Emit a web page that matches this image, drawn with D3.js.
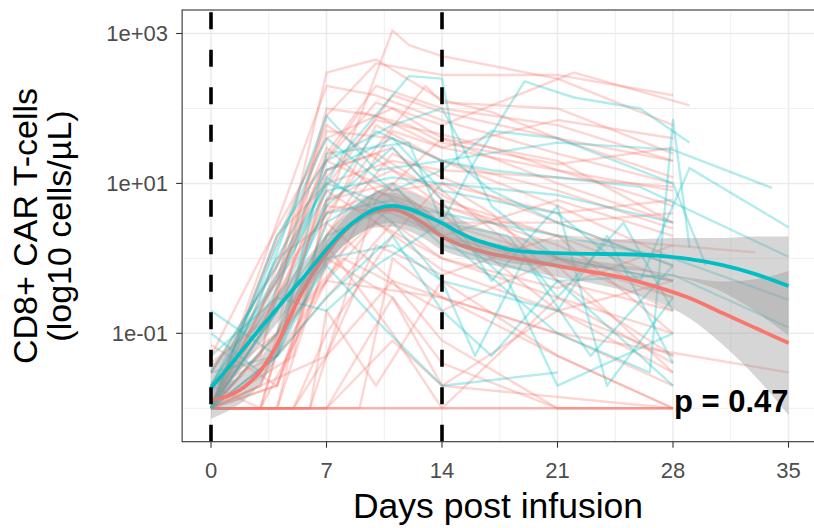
<!DOCTYPE html>
<html>
<head>
<meta charset="utf-8">
<script src="https://cdn.jsdelivr.net/npm/d3@7"></script>
<style>
  body { margin: 0; background: #fff; }
  text { font-family: "Liberation Sans", Arial, sans-serif; }
</style>
</head>
<body>
<div id="chart"></div>
<script>
// ---- data ----
const xTicks = [0, 7, 14, 21, 28, 35]
const xMinor = [3.5, 10.5, 17.5, 24.5, 31.5]
const yTicks = [0.1, 10, 1000]
const yTickLabels = ["1e-01", "1e+01", "1e+03"]
const yMinor = [0.01, 1, 100]
const vlineDays = [0, 14]
const pLabel = "p = 0.47"

// individual patients, [day, cells/uL]
const redPatients = [
  [[0,0.01],[4,0.01],[7,5],[11,1100],[12,700],[14,500],[21,250],[28,60]],
  [[0,0.01],[3,0.05],[7,300],[10,450],[14,130],[17,90],[21,40],[28,20]],
  [[0,0.01],[5,1.5],[7,20],[10,120],[14,60],[22,300],[29,110]],
  [[0,0.01],[4,0.3],[7,80],[10,400],[14,280],[21,280],[28,150]],
  [[0,0.02],[4,0.1],[7,2],[11,50],[14,30],[21,15],[28,8]],
  [[0,0.01],[3,0.01],[7,0.5],[10,8],[14,3],[21,1],[28,0.3]],
  [[0,0.01],[7,0.01],[14,0.01],[21,0.01],[28,0.01]],
  [[0,0.01],[4,0.01],[28,0.01]],
  [[0,0.03],[4,0.5],[7,15],[11,30],[14,6],[21,2],[28,0.5]],
  [[0,0.01],[3,0.02],[7,3],[10,60],[14,20],[21,5],[28,1]],
  [[0,0.01],[5,0.01],[7,0.1],[11,2],[14,10],[17,4],[21,0.5],[28,0.05]],
  [[0,0.05],[3,1],[7,40],[11,100],[14,40],[21,10],[28,3]],
  [[0,0.01],[4,2],[7,10],[11,20],[14,15],[21,12],[28,9]],
  [[0,0.01],[6,0.01],[7,0.2],[10,0.02],[14,0.5],[21,0.05],[28,0.01]],
  [[0,0.02],[4,0.3],[7,8],[10,3],[14,1],[21,0.3],[28,0.1]],
  [[0,0.01],[4,0.01],[7,1],[11,0.3],[14,0.02],[21,0.2],[28,0.03]],
  [[0,0.01],[3,0.1],[7,25],[10,200],[14,100],[21,60],[28,20]],
  [[0,0.01],[4,0.02],[7,0.8],[11,5],[14,2],[21,6],[28,2]],
  [[0,0.01],[4,0.5],[7,4],[11,9],[14,3],[21,3],[28,4]],
  [[0,0.01],[3,0.2],[7,50],[11,40],[14,20],[21,8],[28,2.5]],
  [[0,0.01],[7,0.05],[11,0.5],[14,0.08],[21,0.01],[28,0.01]],
  [[0,0.03],[4,0.8],[7,30],[10,8],[14,4],[17,1],[21,0.2],[28,0.05]],
  [[0,0.01],[4,0.1],[8,1],[10,0.6],[14,0.2],[21,1],[28,0.5]],
  [[0,0.01],[4,0.01],[9,0.01],[11,1],[14,0.3],[21,0.1],[28,0.02]],
  [[0,0.01],[4,3],[7,200],[10,150],[14,70],[21,25],[28,10]],
  [[0,0.01],[5,0.05],[7,6],[11,15],[14,8],[21,0.5],[28,0.2]],
  [[0,0.01],[3,0.01],[7,12],[10,70],[14,45],[17,30],[21,15],[28,5]],
  [[0,0.02],[4,0.05],[7,0.3],[11,3],[14,1],[21,0.4],[28,1.5]],
  [[0,0.01],[4,0.02],[7,2],[11,25],[14,12],[21,3],[28,0.8]],
  [[0,0.01],[3,0.5],[7,60],[11,15],[14,5],[21,1.5],[28,0.3]],
  [[0,0.01],[4,0.01],[7,0.01],[11,0.3],[14,0.04],[21,0.01],[28,0.01]],
  [[0,0.01],[4,0.2],[7,5],[11,4],[14,2],[21,0.8],[28,0.03]],
  [[0,0.01],[5,0.01],[7,0.05],[10,1.5],[14,0.6],[21,2],[28,0.1]],
  [[0,0.02],[3,0.05],[7,100],[10,80],[14,30],[21,70],[28,40]],
  [[0,0.01],[4,0.6],[7,20],[11,8],[14,10],[21,4],[28,6]],
  [[0,0.01],[4,0.05],[7,0.5],[10,3],[14,0.7],[21,0.2],[28,0.5]],
  [[0,0.01],[3,0.02],[7,9],[11,150],[14,90],[21,40],[28,12]],
  [[0,0.01],[4,1],[7,3],[11,0.5],[14,0.3],[21,0.05],[28,0.01]],
  [[0,0.04],[4,0.2],[7,15],[10,25],[14,7],[21,1],[28,0.2]],
  [[0,0.01],[7,0.01],[11,0.08],[14,0.02],[28,0.01]],
  [[0,0.01],[4,0.3],[7,6],[11,10],[14,5],[21,2],[33,1.2]],
  [[0,0.01],[7,0.5],[14,0.3],[21,0.1],[35,0.03]],
  [[0,0.07],[4,0.02],[7,1.5],[11,0.1],[14,0.01],[21,0.3],[28,0.04]],
  [[0,0.01],[4,0.01],[6,0.01],[10,6],[14,40],[21,20],[28,3]],
  [[0,0.01],[4,0.1],[6,10],[9,90],[12,60],[14,35],[21,18],[28,30]],
  [[0,0.02],[3,0.01],[6,2],[10,30],[13,200],[14,120],[21,100],[28,25]]
]

const tealPatients = [
  [[0,0.02],[4,0.6],[8,25],[12,270],[14,250],[15,18],[17,8],[21,3],[28,0.8]],
  [[0,0.01],[4,0.2],[7,2],[11,5],[14,3],[16,20],[19,230],[22,140],[26,100],[29,35]],
  [[0,0.01],[3,0.3],[7,80],[10,15],[14,20],[21,35],[26,30],[28,28],[34,8.7]],
  [[0,0.01],[4,0.05],[7,3],[11,10],[14,2],[21,0.1],[26.6,0.03],[28,70],[29,1.4]],
  [[0,0.02],[4,1],[7,15],[11,40],[14,8],[21,4],[26,0.5],[29,16],[35,2.6]],
  [[0,0.01],[4,0.1],[7,6],[10,50],[14,20],[17,15],[21,12],[26,9],[35,1.05]],
  [[0,0.03],[4,0.8],[7,10],[11,5],[14,4],[21,2],[28,1],[35,0.28]],
  [[0,0.01],[4,0.2],[7,4],[11,6],[14,1.5],[21,0.5],[28,0.6],[35,0.12]],
  [[0,0.2],[4,0.05],[7,0.3],[11,2],[14,0.2],[17,0.05],[21,0.5],[28,0.02]],
  [[0,0.01],[3,0.1],[7,5],[11,30],[14,6],[17,0.5],[21,5],[24,0.02],[28,0.3]],
  [[0,0.05],[4,0.3],[7,0.2],[10,0.8],[14,3],[18,0.5],[21,0.02],[28,0.1]],
  [[0,0.01],[4,2],[7,20],[11,60],[14,100],[15,40],[17,5],[21,1],[28,0.5]],
  [[0,0.02],[4,0.5],[7,8],[11,12],[14,10],[21,7],[28,3]],
  [[0,0.01],[4,0.05],[7,1],[11,1.5],[14,0.5],[21,0.2],[24,2],[28,0.04]],
  [[0,0.1],[3,0.03],[7,0.8],[10,0.15],[14,0.02],[21,0.03]],
  [[0,0.01],[4,1.5],[7,40],[11,8],[14,15],[17,50],[21,40],[28,10],[30,0.8]],
  [[0,0.01],[4,0.4],[7,12],[11,3],[14,0.5],[16,0.05],[19,1],[23,0.05],[28,0.8]],
  [[0,0.03],[4,0.05],[7,25],[12,35],[14,3],[18,2],[21,0.3],[25,3],[28,0.2]]
]

// smooth fits: log10 value and standard error (log10) at these days
const fitDays = [0,1,2,3,4,5,6,7,8,9,10,11,12,13,14,15,16,17,18,19,21,23,25,27,29,31,33,35]
const tealFit = [-1.73,-1.47,-1.20,-0.93,-0.67,-0.41,-0.15,0.12,0.36,0.54,0.66,0.70,0.66,0.57,0.47,0.35,0.25,0.18,0.12,0.09,0.07,0.06,0.055,0.035,-0.01,-0.09,-0.21,-0.37]
const tealSe  = [0.30,0.26,0.23,0.21,0.20,0.20,0.20,0.20,0.20,0.21,0.22,0.23,0.23,0.22,0.20,0.19,0.18,0.18,0.18,0.18,0.18,0.19,0.20,0.23,0.28,0.36,0.50,0.66]
const redFit  = [-1.89,-1.84,-1.72,-1.50,-1.15,-0.68,-0.26,0.06,0.34,0.53,0.63,0.65,0.58,0.45,0.29,0.19,0.12,0.06,0.02,-0.02,-0.10,-0.18,-0.26,-0.38,-0.53,-0.73,-0.93,-1.13]
const redSe   = [0.25,0.20,0.18,0.17,0.17,0.17,0.17,0.17,0.18,0.20,0.22,0.23,0.22,0.20,0.18,0.16,0.15,0.15,0.15,0.15,0.15,0.15,0.17,0.20,0.27,0.42,0.65,0.96]

const red = "#F8766D"
const teal = "#00BFC4"

// ---- layout ----
const W = 814, H = 528
const x = d3.scaleLinear().domain([0, 35]).range([211, 788.5])
const y = d3.scaleLog().domain([0.1, 1000]).range([333.3, 33.5])
const panel = {left: x(-1.75), right: x(36.75), top: 10, bottom: 441.7}

const svg = d3.select("#chart").append("svg")
    .attr("width", W).attr("height", H)

svg.append("clipPath").attr("id", "clip")
  .append("rect")
    .attr("x", panel.left).attr("y", panel.top)
    .attr("width", panel.right - panel.left)
    .attr("height", panel.bottom - panel.top)

// grid
const grid = svg.append("g")
grid.selectAll(".vmin").data(xMinor).join("line")
    .attr("x1", d => x(d)).attr("x2", d => x(d))
    .attr("y1", panel.top).attr("y2", panel.bottom)
    .attr("stroke", "#EBEBEB").attr("stroke-width", 0.8)
grid.selectAll(".hmin").data(yMinor).join("line")
    .attr("y1", d => y(d)).attr("y2", d => y(d))
    .attr("x1", panel.left).attr("x2", panel.right)
    .attr("stroke", "#EBEBEB").attr("stroke-width", 0.8)
grid.selectAll(".vmaj").data(xTicks).join("line")
    .attr("x1", d => x(d)).attr("x2", d => x(d))
    .attr("y1", panel.top).attr("y2", panel.bottom)
    .attr("stroke", "#EBEBEB").attr("stroke-width", 1.5)
grid.selectAll(".hmaj").data(yTicks).join("line")
    .attr("y1", d => y(d)).attr("y2", d => y(d))
    .attr("x1", panel.left).attr("x2", panel.right)
    .attr("stroke", "#EBEBEB").attr("stroke-width", 1.5)

const plot = svg.append("g").attr("clip-path", "url(#clip)")

// spaghetti
const pline = d3.line().x(d => x(d[0])).y(d => y(d[1]))
function drawPatients(data, color){
    plot.append("g").selectAll("path").data(data).join("path")
        .attr("d", pline)
        .attr("fill", "none")
        .attr("stroke", color)
        .attr("stroke-opacity", 0.3)
        .attr("stroke-width", 2.4)
        .attr("stroke-linejoin", "round")
}
drawPatients(redPatients, red)
drawPatients(tealPatients, teal)

// smooth + ribbon
const ylog = v => y(Math.pow(10, v))
function drawSmooth(fit, se, color){
    const pts = fitDays.map((d, i) => ({d: d, f: fit[i], s: se[i]}))
    plot.append("path").datum(pts)
        .attr("d", d3.area().curve(d3.curveMonotoneX)
            .x(p => x(p.d)).y0(p => ylog(p.f - p.s)).y1(p => ylog(p.f + p.s)))
        .attr("fill", "#999999").attr("fill-opacity", 0.4)
    plot.append("path").datum(pts)
        .attr("d", d3.line().curve(d3.curveMonotoneX).x(p => x(p.d)).y(p => ylog(p.f)))
        .attr("fill", "none").attr("stroke", color).attr("stroke-width", 3.8)
}
drawSmooth(redFit, redSe, red)
drawSmooth(tealFit, tealSe, teal)

// dashed vlines
plot.selectAll(".vl").data(vlineDays).join("line")
    .attr("x1", d => x(d)).attr("x2", d => x(d))
    .attr("y1", panel.bottom).attr("y2", panel.top)
    .attr("stroke", "#000").attr("stroke-width", 3.6)
    .attr("stroke-dasharray", "17,20.5")

// p value
svg.append("text")
    .attr("x", x(35)).attr("y", 412)
    .attr("text-anchor", "end")
    .attr("font-size", 31).attr("font-weight", "bold")
    .text(pLabel)

// panel border
svg.append("rect")
    .attr("x", panel.left).attr("y", panel.top)
    .attr("width", panel.right - panel.left)
    .attr("height", panel.bottom - panel.top)
    .attr("fill", "none").attr("stroke", "#333").attr("stroke-width", 1.1)

// axes
const xAxis = svg.append("g")
xAxis.selectAll("line").data(xTicks).join("line")
    .attr("x1", d => x(d)).attr("x2", d => x(d))
    .attr("y1", panel.bottom).attr("y2", panel.bottom + 6)
    .attr("stroke", "#333").attr("stroke-width", 1.1)
xAxis.selectAll("text").data(xTicks).join("text")
    .attr("x", d => x(d)).attr("y", 478)
    .attr("text-anchor", "middle")
    .attr("font-size", 22).attr("fill", "#4D4D4D")
    .text(d => d)

const yAxis = svg.append("g")
yAxis.selectAll("line").data(yTicks).join("line")
    .attr("y1", d => y(d)).attr("y2", d => y(d))
    .attr("x1", panel.left - 6).attr("x2", panel.left)
    .attr("stroke", "#333").attr("stroke-width", 1.1)
yAxis.selectAll("text").data(yTicks).join("text")
    .attr("x", 168).attr("y", d => y(d))
    .attr("dy", "0.36em")
    .attr("text-anchor", "end")
    .attr("font-size", 22).attr("fill", "#4D4D4D")
    .text((d, i) => yTickLabels[i])

// titles
svg.append("text")
    .attr("x", 498).attr("y", 518)
    .attr("text-anchor", "middle")
    .attr("font-size", 35.5)
    .text("Days post infusion")

const yt = svg.append("text")
    .attr("transform", "translate(37,226) rotate(-90)")
    .attr("text-anchor", "middle")
    .attr("font-size", 34)
yt.append("tspan").attr("x", 0).attr("y", 0).text("CD8+ CAR T-cells")
yt.append("tspan").attr("x", 0).attr("y", 34).text("(log10 cells/µL)")
</script>
</body>
</html>
